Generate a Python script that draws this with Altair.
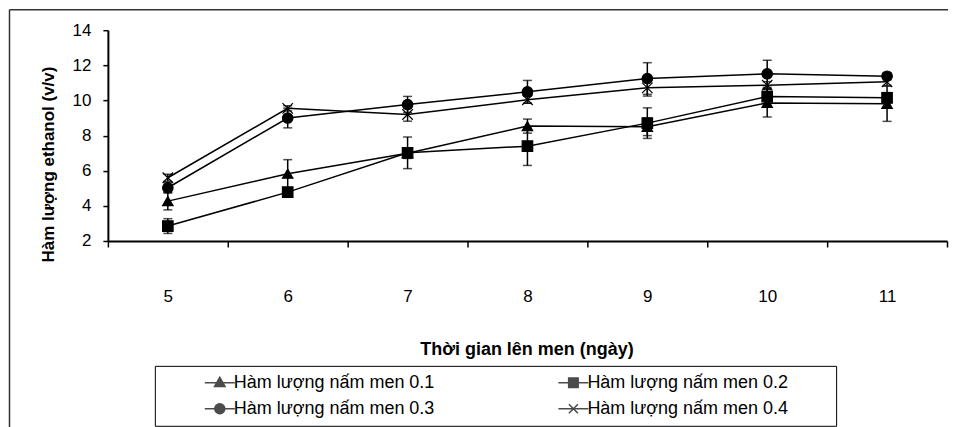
import altair as alt
import pandas as pd

days = [5, 6, 7, 8, 9, 10, 11]
series_names = [
    "Hàm lượng nấm men 0.1",
    "Hàm lượng nấm men 0.2",
    "Hàm lượng nấm men 0.3",
    "Hàm lượng nấm men 0.4",
]
v01 = [4.27, 5.83, 7.0, 8.54, 8.5, 9.86, 9.81]
e01 = [0.5, 0.8, 0.3, 0.4, 0.5, 0.8, 1.0]
v02 = [2.85, 4.78, 7.02, 7.4, 8.71, 10.22, 10.15]
e02 = [0.42, 0.2, 0.9, 1.1, 0.87, 0.4, 0.3]
v03 = [5.03, 9.0, 9.77, 10.49, 11.25, 11.52, 11.38]
e03 = [0.3, 0.56, 0.46, 0.65, 0.9, 0.77, 0.2]
v04 = [5.6, 9.55, 9.2, 10.04, 10.72, 10.87, 11.06]
e04 = [0.2, 0.15, 0.38, 0.2, 0.47, 0.2, 0.2]
y_ticks = [2, 4, 6, 8, 10, 12, 14]

rows = []
for name, vals, errs in zip(series_names, [v01, v02, v03, v04], [e01, e02, e03, e04]):
    for d, v, e in zip(days, vals, errs):
        rows.append({"day": d, "series": name, "value": v, "lo": v - e, "hi": v + e})
df = pd.DataFrame(rows)

FONT = "Liberation Sans"

x_axis = alt.Axis(
    title="Thời gian lên men (ngày)",
    tickBand="extent",
    labelAngle=0,
    labelFontSize=17,
    labelPadding=42,
    tickSize=6,
    tickWidth=1.5,
    domainWidth=2,
    titleFontSize=18,
    titleFontWeight="bold",
    titleX=419,
    titleY=109,
    titleBaseline="middle",
    titleAlign="center",
)
x_scale = alt.Scale(type="band", paddingInner=0, paddingOuter=0)

y_axis = alt.Axis(
    title="Hàm lượng ethanol  (v/v)",
    values=y_ticks,
    labelFontSize=17,
    labelPadding=12,
    tickSize=5,
    tickWidth=1.5,
    domainWidth=2,
    titleFontSize=17,
    titleFontWeight="bold",
    titleX=-59,
    titleY=134,
    titleBaseline="middle",
    titleAlign="center",
)
y_scale = alt.Scale(domain=[2, 14], nice=False, zero=False)


def X():
    return alt.X("day:O", scale=x_scale, axis=x_axis)


def Y(field):
    return alt.Y(f"{field}:Q", scale=y_scale, axis=y_axis)


base = alt.Chart(df)
one = pd.DataFrame({"a": [0]})

frame_top = alt.Chart(one).mark_rule(color="#333333", strokeWidth=1.5).encode(
    x=alt.value(-98.5), x2=alt.value(841), y=alt.value(-20.5)
)
frame_left = alt.Chart(one).mark_rule(color="#333333", strokeWidth=1.5).encode(
    x=alt.value(-98.5), y=alt.value(-20.5), y2=alt.value(412)
)

lines = base.mark_line(color="black", strokeWidth=1.5).encode(
    x=X(), y=Y("value"), detail="series:N"
)

rules = base.mark_rule(color="black", strokeWidth=1.5).encode(
    x=X(), y=Y("lo"), y2="hi:Q"
)

caps_lo = base.mark_tick(color="black", thickness=1.5, size=9).encode(x=X(), y=Y("lo"))
caps_hi = base.mark_tick(color="black", thickness=1.5, size=9).encode(x=X(), y=Y("hi"))

x_path = "M-1,-1L1,1M-1,1L1,-1"
points = base.mark_point(
    filled=True, size=110, opacity=1, stroke="black", strokeWidth=1.2
).encode(
    x=X(),
    y=Y("value"),
    color=alt.value("black"),
    shape=alt.Shape(
        "series:N",
        scale=alt.Scale(domain=series_names, range=["triangle-up", "square", "circle", x_path]),
        legend=None,
    ),
)

legend_paths = [
    "M-3,0H3M0,-1.1L1.05,0.75H-1.05Z",
    "M-3,0H3M-0.95,-0.95H0.95V0.95H-0.95Z",
    "M-3,0H3M1,0A1,1 0 1,1 -1,0A1,1 0 1,1 1,0Z",
    "M-3,0H3M-0.9,-0.9L0.9,0.9M-0.9,0.9L0.9,-0.9",
]
legend_layer = base.transform_filter("false").mark_point(
    filled=True, stroke="black", strokeWidth=1.5
).encode(
    x=X(),
    y=Y("value"),
    color=alt.value("black"),
    shape=alt.Shape(
        "series:N",
        scale=alt.Scale(domain=series_names, range=legend_paths),
        legend=alt.Legend(
            title="\u00a0",
            titleOrient="right",
            titlePadding=40,
            titleFontSize=10,
            orient="none",
            direction="horizontal",
            legendX=47,
            legendY=336,
            columns=2,
            padding=8,
            strokeColor="black",
            fillColor="white",
            symbolSize=100,
            symbolOffset=48,
            symbolFillColor="black",
            labelOffset=5,
            labelFont=FONT,
            labelFontSize=18,
            labelColor="black",
            labelLimit=400,
            columnPadding=82,
            rowPadding=8,
        ),
    ),
)

chart = (
    alt.layer(frame_top, frame_left, lines, rules, caps_lo, caps_hi, points, legend_layer)
    .resolve_scale(shape="independent")
    .properties(width=840, height=211, padding=0, background="white")
    .configure_view(stroke=None)
    .configure_axis(
        labelFont=FONT,
        titleFont=FONT,
        labelColor="black",
        titleColor="black",
        domainColor="black",
        tickColor="black",
        grid=False,
    )
)

chart.save("out.html", embed_options={"renderer": "svg", "actions": False})
